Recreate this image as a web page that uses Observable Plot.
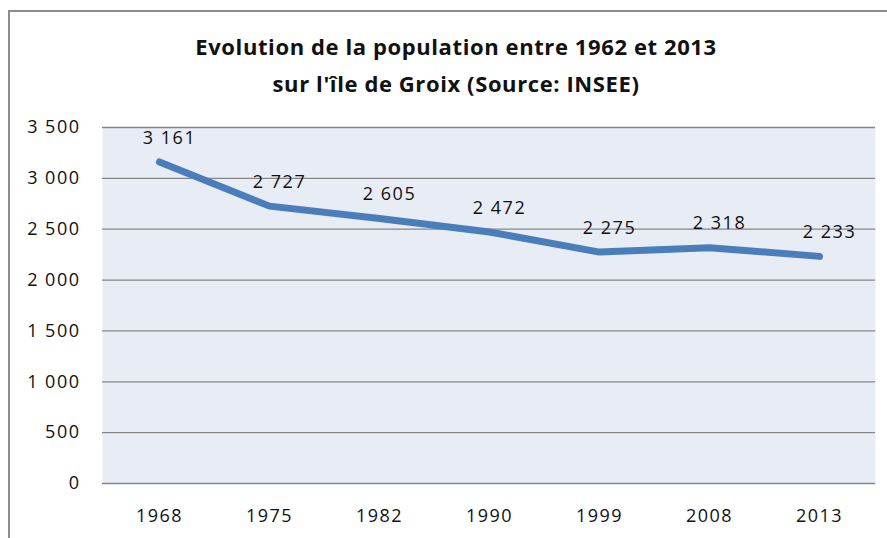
<!DOCTYPE html>
<html>
<head>
<meta charset="utf-8">
<script src="https://cdn.jsdelivr.net/npm/d3@7"></script>
<script src="https://cdn.jsdelivr.net/npm/@observablehq/plot@0.6"></script>
<style>
  html, body { margin: 0; padding: 0; background: #fff; }
  #wrap { position: relative; width: 887px; height: 538px; overflow: hidden; }
  #border { position: absolute; left: 8px; top: 10px; width: 900px; height: 600px;
            border-left: 2px solid #8c8c8c; border-top: 2px solid #8c8c8c; pointer-events: none; }
  svg { font-family: "Open Sans", sans-serif; }
  .num text, text.num { letter-spacing: 1.5px; }
  .ttl text, text.ttl { letter-spacing: 0.6px; }
</style>
</head>
<body>
<div id="wrap"><div id="border"></div></div>
<script>
const years = ["1968", "1975", "1982", "1990", "1999", "2008", "2013"];
const population = [3161, 2727, 2605, 2472, 2275, 2318, 2233];
const yTicks = [0, 500, 1000, 1500, 2000, 2500, 3000, 3500];
const titleLines = ["Evolution de la population entre 1962 et 2013", "sur l'île de Groix (Source: INSEE)"];

const data = years.map((y, i) => ({year: y, pop: population[i]}));
const fmtLabel = v => d3.format(",")(v).replace(/,/g, " ");

const chart = Plot.plot({
  width: 887,
  height: 538,
  marginLeft: 102,
  marginRight: 12,
  marginTop: 127,
  marginBottom: 55,
  style: {fontFamily: "'Open Sans', sans-serif", fontSize: "18px", color: "#111", background: "transparent"},
  x: {type: "point", domain: years, padding: 0.5, label: null},
  y: {domain: [0, 3500], label: null},
  marks: [
    Plot.frame({fill: "#e7ecf5", stroke: null}),
    Plot.gridY(yTicks, {stroke: "#868686", strokeOpacity: 1, strokeWidth: 1.3}),
    Plot.axisY(yTicks, {tickSize: 0, tickPadding: 22, tickFormat: fmtLabel, fontSize: 18, fill: "#111", className: "num", label: null}),
    Plot.axisX(years, {tickSize: 0, tickPadding: 26, fontSize: 18, fill: "#111", className: "num", label: null}),
    Plot.line(data, {x: "year", y: "pop", stroke: "#4a7ebb", strokeWidth: 7, strokeLinecap: "round", strokeLinejoin: "round"}),
    Plot.text(data, {x: "year", y: "pop", text: d => fmtLabel(d.pop), dx: 10, dy: -24, fontSize: 18, fill: "#111", className: "num"}),
    Plot.text([titleLines[0]], {frameAnchor: "top", lineAnchor: "middle", dx: -33, dy: -80, fontSize: 22, fontWeight: "bold", fill: "#111", className: "ttl"}),
    Plot.text([titleLines[1]], {frameAnchor: "top", lineAnchor: "middle", dx: -33, dy: -43, fontSize: 22, fontWeight: "bold", fill: "#111", className: "ttl"})
  ]
});
document.getElementById("wrap").prepend(chart);
</script>
</body>
</html>
